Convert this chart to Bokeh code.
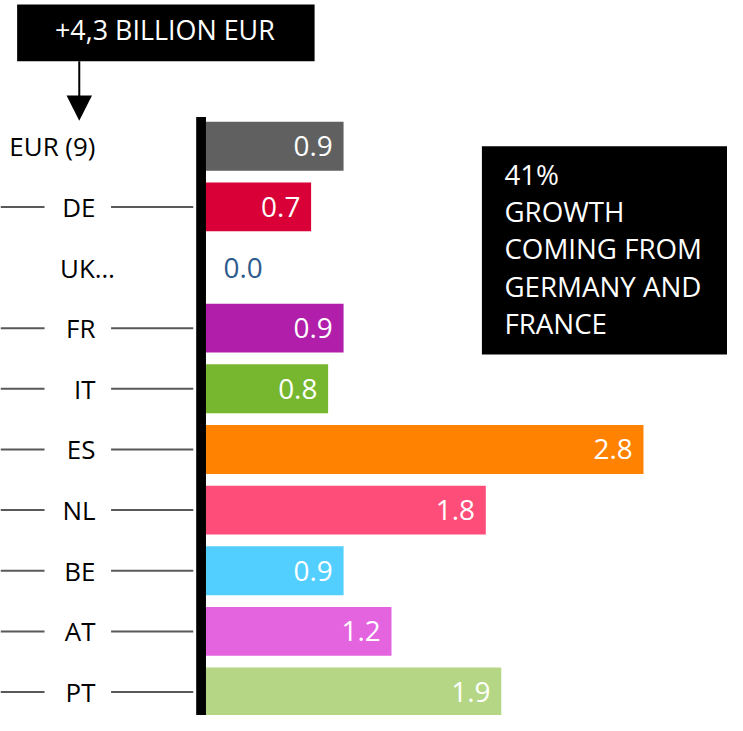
from bokeh.plotting import figure
from bokeh.models import Range1d, ColumnDataSource
from bokeh.core.properties import value
from bokeh.embed import file_html
from bokeh.resources import INLINE

# ---------------- data ----------------
categories = ["EUR (9)", "DE", "UK…", "FR", "IT", "ES", "NL", "BE", "AT", "PT"]
growth = [0.89, 0.68, 0.0, 0.89, 0.79, 2.83, 1.81, 0.89, 1.20, 1.91]
bar_colors = ["#606060", "#D80036", "#FFFFFF", "#B01EAA", "#77B72F",
              "#FF8300", "#FF4D7A", "#52CFFF", "#E464DF", "#B5D785"]
headline = "+4,3 BILLION EUR"
note_lines = ["41%", "GROWTH", "COMING FROM", "GERMANY AND", "FRANCE"]

# ---------------- layout (reference pixel geometry) ----------------
W, H = 727, 715
REF_W, REF_H = 743, 731
S = W / REF_W
PX_PER_UNIT = 158.0
X0 = 210.0
ROW0 = 149.0
ROW_PITCH = 62.0
FONT = value("Open Sans")


def fx(px):
    return (px - X0) / PX_PER_UNIT


def fy(py):
    return (py - ROW0) / ROW_PITCH


def fs(px):
    return "%.1fpx" % (px * S)


p = figure(width=W, height=H,
           x_range=Range1d(fx(0), fx(REF_W)),
           y_range=Range1d(fy(REF_H), fy(0)),
           output_backend="svg", toolbar_location=None,
           min_border=0, min_border_left=0, min_border_right=0,
           min_border_top=0, min_border_bottom=0)
p.axis.visible = False
p.grid.visible = False
p.outline_line_color = None
p.background_fill_color = "white"

rows = list(range(len(categories)))

# bars
bars = ColumnDataSource(dict(y=rows, right=growth, color=bar_colors))
p.hbar(y="y", left=0, right="right", height=50 / ROW_PITCH,
       fill_color="color", line_color=None, source=bars)

# value labels inside bars
inside = [i for i in rows if growth[i] > 0]
zero = [i for i in rows if growth[i] == 0]
p.text(x=[growth[i] for i in inside], y=[rows[i] for i in inside],
       text=["%.1f" % growth[i] for i in inside],
       x_offset=-11 * S, text_align="right", text_baseline="middle",
       text_color="white", text_font=FONT, text_font_size=fs(28.5))
p.text(x=[growth[i] for i in zero], y=[rows[i] for i in zero],
       text=["%.1f" % growth[i] for i in zero],
       x_offset=18 * S, text_align="left", text_baseline="middle",
       text_color="#2E5A8C", text_font=FONT, text_font_size=fs(28.5))

# category labels
label_x = [fx(117) if c.startswith("UK") else fx(97) for c in categories]
p.text(x=label_x, y=rows, text=categories, text_align="right",
       text_baseline="middle", text_color="black", text_font=FONT,
       text_font_size=fs(26.5))

# grey leader lines (rows with country codes)
line_rows = [i for i in rows if i != 0 and not categories[i].startswith("UK")]
p.segment(x0=[fx(0)] * len(line_rows), x1=[fx(45)] * len(line_rows),
          y0=line_rows, y1=line_rows, line_color="#595959", line_width=2)
p.segment(x0=[fx(113)] * len(line_rows), x1=[fx(197)] * len(line_rows),
          y0=line_rows, y1=line_rows, line_color="#595959", line_width=2)

# thick black axis line
p.quad(left=fx(200), right=fx(210), top=fy(119), bottom=fy(REF_H + 5),
       fill_color="black", line_color=None)

# headline box with arrow
p.quad(left=fx(17), right=fx(321), top=fy(4), bottom=fy(62),
       fill_color="black", line_color=None)
p.text(x=[fx(168)], y=[fy(30)], text=[headline], text_align="center",
       text_baseline="middle", text_color="white", text_font=FONT,
       text_font_size=fs(27.5))
p.segment(x0=[fx(80.5)], x1=[fx(80.5)], y0=[fy(62)], y1=[fy(98)],
          line_color="black", line_width=2)
p.patch(x=[fx(67.5), fx(93.5), fx(80.5)], y=[fy(97), fy(97), fy(123)],
        fill_color="black", line_color=None)

# note box
p.quad(left=fx(492), right=fx(REF_W + 5), top=fy(149), bottom=fy(362),
       fill_color="black", line_color=None)
note_y = [fy(177 + 38.2 * k) for k in range(len(note_lines))]
p.text(x=[fx(515)] * len(note_lines), y=note_y, text=note_lines,
       text_align="left", text_baseline="middle", text_color="white",
       text_font=FONT, text_font_size=fs(28.3))

open("out.html", "w").write(file_html(p, INLINE))
